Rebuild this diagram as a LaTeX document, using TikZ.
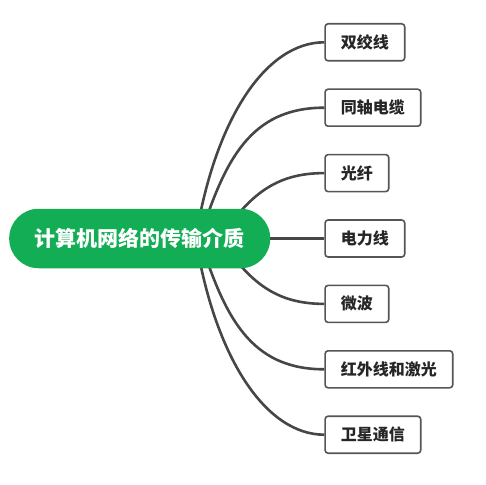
\documentclass[tikz,border=0pt]{standalone}
\usepackage{fontspec}
\newfontfamily\cjk{Noto Sans CJK SC}
\usetikzlibrary{backgrounds}
\definecolor{rootgreen}{HTML}{12AD55}
\definecolor{linegray}{HTML}{464646}
\definecolor{boxgray}{HTML}{555555}
\begin{document}
\begin{tikzpicture}[x=1bp,y=-1bp,
  rootbox/.style={draw=none,fill=rootgreen,text=white,rounded corners=29.5bp,
    minimum height=59.5bp,inner xsep=25.5bp,inner ysep=0pt,
    font=\cjk\bfseries\fontsize{21bp}{24bp}\selectfont},
  leafbox/.style={draw=boxgray,line width=1.6bp,fill=white,rounded corners=3bp,
    minimum height=37bp,inner xsep=15.8bp,inner ysep=0pt,anchor=west,text=black!85,
    font=\cjk\bfseries\fontsize{16bp}{19bp}\selectfont},
  link/.style={draw=linegray,line width=2.6bp}]
\useasboundingbox (0,0) rectangle (486,485);
\node[rootbox] (root) at (139.7,238.5) {计算机网络的传输介质};
\node[leafbox] (c1) at (324.3,42.3) {双绞线};
\node[leafbox] (c2) at (324.3,107.7) {同轴电缆};
\node[leafbox] (c3) at (324.3,173.1) {光纤};
\node[leafbox] (c4) at (324.3,238.5) {电力线};
\node[leafbox] (c5) at (324.3,303.9) {微波};
\node[leafbox] (c6) at (324.3,369.3) {红外线和激光};
\node[leafbox] (c7) at (324.3,434.7) {卫星通信};
\begin{scope}[on background layer]
\draw[link] ([xshift=56bp]root.center) .. controls +(19,-118.5) and +(-59,0) .. (c1.west);
\draw[link] ([xshift=60bp]root.center) .. controls +(25,-78.5) and +(-74,0) .. (c2.west);
\draw[link] ([xshift=80bp]root.center) .. controls +(30,-43.5) and +(-49,0) .. (c3.west);
\draw[link] (root.center) -- (c4.west);
\draw[link] ([xshift=80bp]root.center) .. controls +(30,43.5) and +(-49,0) .. (c5.west);
\draw[link] ([xshift=60bp]root.center) .. controls +(25,78.5) and +(-74,0) .. (c6.west);
\draw[link] ([xshift=56bp]root.center) .. controls +(19,118.5) and +(-59,0) .. (c7.west);
\end{scope}
\end{tikzpicture}
\end{document}
